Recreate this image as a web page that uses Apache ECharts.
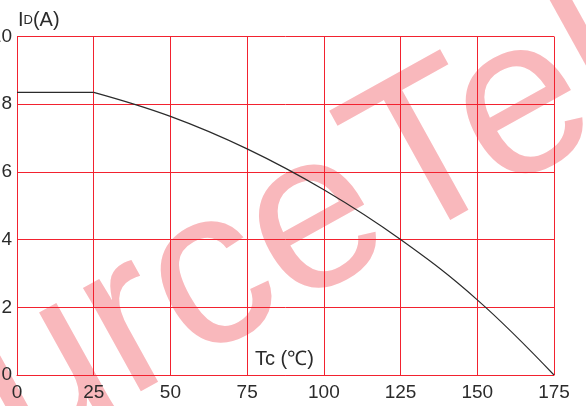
<!DOCTYPE html>
<html>
<head>
<meta charset="utf-8">
<style>
  html, body { margin: 0; padding: 0; background: #ffffff; }
  #chart { width: 586px; height: 406px; }
</style>
<script src="https://cdn.jsdelivr.net/npm/echarts@6/dist/echarts.min.js"></script>
</head>
<body>
<div id="chart"></div>
<script>
// Drain current derating: I_D (A) versus case temperature Tc (°C)
const xTicks = [0, 25, 50, 75, 100, 125, 150, 175];
const yTicks = [0, 2, 4, 6, 8, 10];

// flat region (current limited by package)
const flatTemp = [0, 25];
const flatCurrent = [8.35, 8.35];

// derating region
const curveTemp = [25, 50, 75, 100, 125, 150, 175];
const curveCurrent = [8.35, 7.64, 6.68, 5.47, 4.0, 2.22, 0];

const pairs = (xs, ys) => xs.map((x, i) => [x, ys[i]]);

const FONT = '"Liberation Sans", Arial, sans-serif';
const GRID_RED = '#f2222f';
const INK = '#2b2b2b';

const chart = echarts.init(document.getElementById('chart'), null, { renderer: 'canvas' });

chart.setOption({
  backgroundColor: '#ffffff',
  animation: false,
  grid: {
    left: 17, right: 32, top: 36.5, bottom: 31,
    containLabel: false,
    outerBoundsMode: 'none'
  },
  xAxis: {
    type: 'value',
    min: xTicks[0],
    max: xTicks[xTicks.length - 1],
    interval: 25,
    axisLine: { show: true, lineStyle: { color: GRID_RED, width: 1 } },
    axisTick: { show: false },
    splitLine: { show: true, lineStyle: { color: GRID_RED, width: 1 } },
    axisLabel: {
      color: INK, fontFamily: FONT, fontSize: 19, margin: 8,
      formatter: v => xTicks.includes(v) ? String(v) : ''
    }
  },
  yAxis: {
    type: 'value',
    min: yTicks[0],
    max: yTicks[yTicks.length - 1],
    interval: 2,
    axisLine: { show: true, lineStyle: { color: GRID_RED, width: 1 } },
    axisTick: { show: false },
    splitLine: { show: true, lineStyle: { color: GRID_RED, width: 1 } },
    axisLabel: {
      color: INK, fontFamily: FONT, fontSize: 19, margin: 5,
      formatter: v => yTicks.includes(v) ? String(v) : ''
    }
  },
  graphic: [
    {
      type: 'text',
      z: -10,
      silent: true,
      x: -197, y: 636,
      rotation: 29 * Math.PI / 180,
      style: {
        text: 'SourceTel',
        font: '224px "Liberation Sans", Arial, sans-serif',
        fill: '#f9b8bc',
        textAlign: 'left',
        textVerticalAlign: 'bottom'
      }
    },
    {
      type: 'text',
      z: 10,
      x: 18, y: 10,
      style: {
        rich: {
          big: { fontFamily: FONT, fontSize: 20, fill: INK, color: INK },
          small: { fontFamily: FONT, fontSize: 13, fill: INK, color: INK }
        },
        text: '{big|I}{small|D}{big|(A)}'
      }
    },
    {
      type: 'text',
      z: 10,
      x: 255, y: 349,
      style: {
        text: 'Tc (℃)',
        font: '20px "Liberation Sans", Arial, sans-serif',
        fill: INK
      }
    }
  ],
  series: [
    {
      type: 'line',
      data: pairs(flatTemp, flatCurrent),
      showSymbol: false,
      lineStyle: { color: INK, width: 1.2 },
      z: 5
    },
    {
      type: 'line',
      data: pairs(curveTemp, curveCurrent),
      smooth: 0.4,
      showSymbol: false,
      lineStyle: { color: INK, width: 1.2 },
      z: 5
    }
  ]
});
</script>
</body>
</html>
